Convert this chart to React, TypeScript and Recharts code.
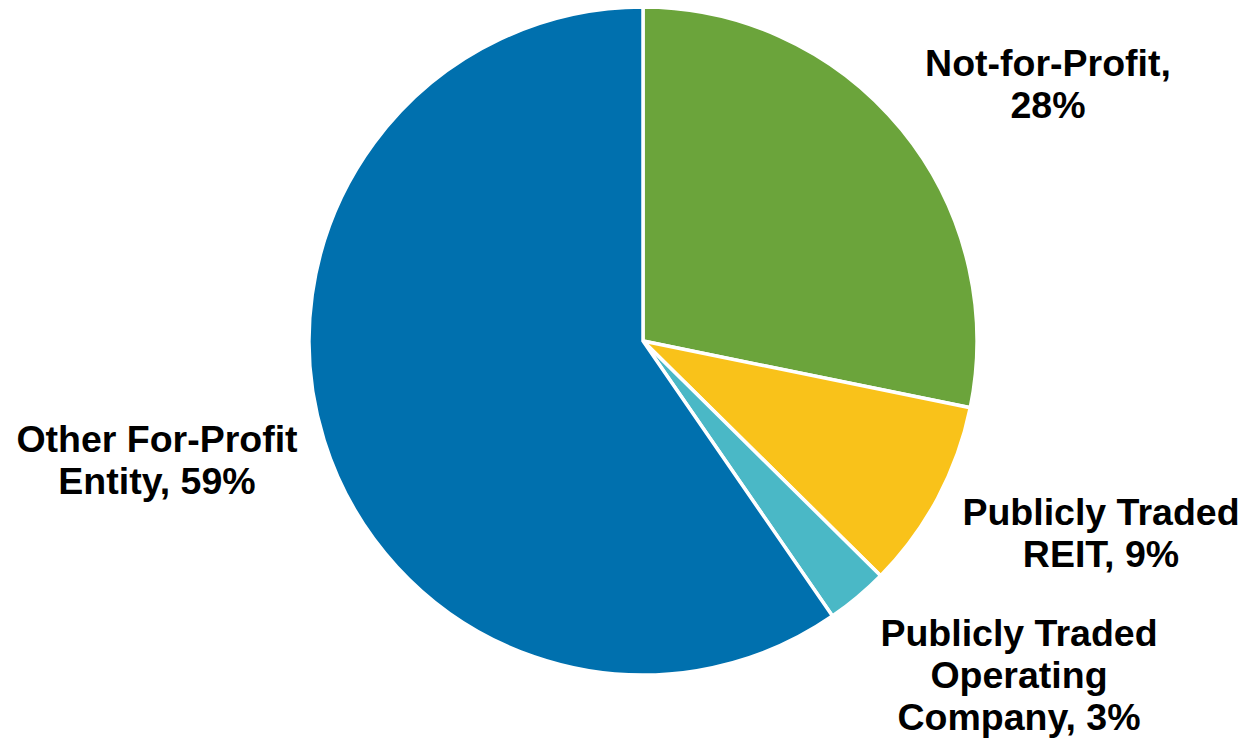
import { Cell, Pie, PieChart } from 'recharts'

const categories = [
  'Not-for-Profit',
  'Publicly Traded REIT',
  'Publicly Traded Operating Company',
  'Other For-Profit Entity',
]
const shares = [28.2, 9.2, 3.0, 59.6]
const labelLines = [
  ['Not-for-Profit,', '28%'],
  ['Publicly Traded', 'REIT, 9%'],
  ['Publicly Traded', 'Operating', 'Company, 3%'],
  ['Other For-Profit', 'Entity, 59%'],
]

const colors = ['#6ba43b', '#f9c21a', '#4ab8c6', '#0070ae']

// label anchor (centre x, first baseline) relative to the pie centre
const labelSpots = [
  { dx: 405, dy: -265 },
  { dx: 458, dy: 184 },
  { dx: 376, dy: 305 },
  { dx: -486, dy: 111 },
]

const data = categories.map((name, i) => ({ name, value: shares[i] }))

function SliceLabel(props: any) {
  const { cx, cy, index } = props
  const spot = labelSpots[index]
  const lines = labelLines[index]
  return (
    <text
      x={cx + spot.dx}
      y={cy + spot.dy}
      textAnchor="middle"
      fill="#000"
      fontSize={37.5}
      fontWeight="bold"
      fontFamily="'Liberation Sans', Arial, sans-serif"
    >
      {lines.map((line, i) => (
        <tspan key={i} x={cx + spot.dx} dy={i === 0 ? 0 : 42}>
          {line}
        </tspan>
      ))}
    </text>
  )
}

export default function App() {
  return (
    <div style={{ position: 'absolute', left: 0, top: 0, background: '#fff' }}>
      <PieChart width={1245} height={742} margin={{ top: 0, right: 0, bottom: 0, left: 0 }}>
        <Pie
          data={data}
          dataKey="value"
          cx={643}
          cy={341}
          outerRadius={334}
          startAngle={90}
          endAngle={-270}
          stroke="#fff"
          strokeWidth={3.5}
          label={SliceLabel}
          labelLine={false}
          isAnimationActive={false}
        >
          {data.map((d, i) => (
            <Cell key={d.name} fill={colors[i]} />
          ))}
        </Pie>
      </PieChart>
    </div>
  )
}
